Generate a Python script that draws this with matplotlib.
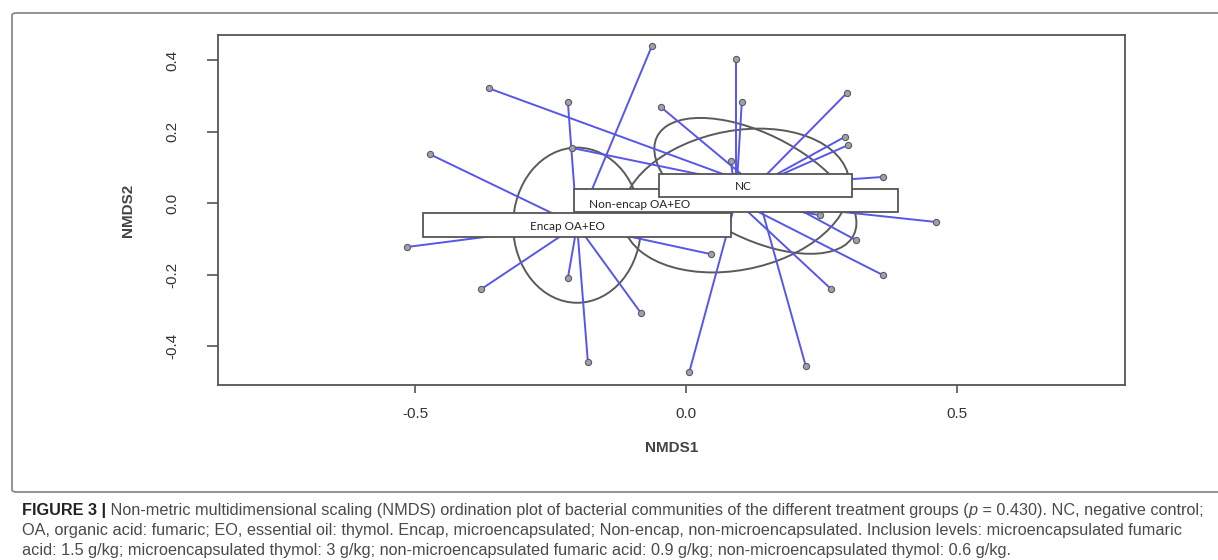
import numpy as np
import matplotlib
matplotlib.use("Agg")
import matplotlib.pyplot as plt
from matplotlib.patches import Ellipse, Rectangle, FancyBboxPatch

# NMDS site scores, one pair of lists per treatment group
encap_x = [-0.063, -0.218, -0.472, -0.515, 0.046, -0.378, -0.218, -0.083, -0.181]
encap_y = [0.440, 0.284, 0.137, -0.122, -0.142, -0.240, -0.209, -0.307, -0.444]

nonencap_x = [0.092, 0.103, 0.083, 0.461, 0.247, 0.364, 0.268, 0.006]
nonencap_y = [0.404, 0.284, 0.118, -0.052, -0.033, -0.201, -0.240, -0.472]

nc_x = [-0.364, -0.046, 0.297, 0.293, 0.299, -0.210, 0.364, 0.314, 0.221]
nc_y = [0.322, 0.269, 0.309, 0.186, 0.163, 0.155, 0.074, -0.103, -0.455]

# group centroids (spider hubs / label positions)
group_names = ["Encap OA+EO", "Non-encap OA+EO", "NC"]
centroid_x = [-0.201, 0.092, 0.128]
centroid_y = [-0.061, 0.008, 0.049]

# dispersion ellipses: full width, full height (NMDS units), rotation in degrees
ell_width = [0.236, 0.452, 0.468]
ell_height = [0.434, 0.366, 0.254]
ell_angle = [0.0, 39.0, -46.0]

x_ticks = [-0.5, 0.0, 0.5]
x_tick_labels = ["-0.5", "0.0", "0.5"]
y_ticks = [-0.4, -0.2, 0.0, 0.2, 0.4]
y_tick_labels = ["-0.4", "-0.2", "0.0", "0.2", "0.4"]

caption_lines = [
    [("FIGURE 3 |", "bold", "normal"),
     (" Non-metric multidimensional scaling (NMDS) ordination plot of bacterial communities of the different treatment groups (", "normal", "normal"),
     ("p", "normal", "italic"),
     (" = 0.430). NC, negative control;", "normal", "normal")],
    [("OA, organic acid: fumaric; EO, essential oil: thymol. Encap, microencapsulated; Non-encap, non-microencapsulated. Inclusion levels: microencapsulated fumaric", "normal", "normal")],
    [("acid: 1.5 g/kg; microencapsulated thymol: 3 g/kg; non-microencapsulated fumaric acid: 0.9 g/kg; non-microencapsulated thymol: 0.6 g/kg.", "normal", "normal")],
]

# label box geometry (half sizes in NMDS units) and text offsets inside the boxes
box_half_w = [0.284, 0.299, 0.178]
box_half_h = [0.034, 0.032, 0.032]
text_dx = [-0.018, -0.177, -0.022]
text_dy = [-0.004, -0.012, -0.003]

W, H = 1218, 560
fig = plt.figure(figsize=(W / 100, H / 100), dpi=100)
fig.patch.set_facecolor("white")

# outer frame around the plot panel (its right side runs off the page)
frame = FancyBboxPatch((12 / W, 1 - 492 / H), (1240 - 12) / W, (492 - 13) / H,
                       boxstyle="round,pad=0,rounding_size=0.004",
                       transform=fig.transFigure, fill=False,
                       edgecolor="#8a8a8a", linewidth=1.3)
fig.patches.append(frame)

ax = fig.add_axes([218 / W, 1 - 385 / H, (1125 - 218) / W, (385 - 35) / H])
ax.set_xlim(-0.8635, 0.81)
ax.set_ylim(-0.508, 0.471)

groups_x = [encap_x, nonencap_x, nc_x]
groups_y = [encap_y, nonencap_y, nc_y]

# ellipses
for g in range(3):
    e = Ellipse((centroid_x[g], centroid_y[g]), ell_width[g], ell_height[g],
                angle=ell_angle[g], fill=False, edgecolor="#5a5a5a",
                linewidth=1.4, zorder=2)
    ax.add_patch(e)

# spider lines from each site to its group centroid
for g in range(3):
    for x, y in zip(groups_x[g], groups_y[g]):
        ax.plot([x, centroid_x[g]], [y, centroid_y[g]], color="#5656ea",
                linewidth=1.4, solid_capstyle="round", zorder=3)

# site points
for g in range(3):
    ax.scatter(groups_x[g], groups_y[g], s=20, facecolor="#a0a0a8",
               edgecolor="#5a5a6a", linewidth=0.8, zorder=4)

# group labels in boxes
for g in [1, 2, 0]:
    rect = Rectangle((centroid_x[g] - box_half_w[g], centroid_y[g] - box_half_h[g]),
                     2 * box_half_w[g], 2 * box_half_h[g],
                     facecolor="white", edgecolor="#555555", linewidth=1.3, zorder=5 + g * 0.1)
    ax.add_patch(rect)
    ax.text(centroid_x[g] + text_dx[g], centroid_y[g] + text_dy[g], group_names[g],
            ha="center", va="center", fontsize=8.5, family=["Lato", "DejaVu Sans"],
            color="#222222", zorder=6)

for side in ["left", "right", "top", "bottom"]:
    ax.spines[side].set_color("#555555")
    ax.spines[side].set_linewidth(1.3)

ax.set_xticks(x_ticks)
ax.set_xticklabels(x_tick_labels, fontsize=11, family="Liberation Sans", color="#333333")
ax.set_yticks(y_ticks)
ax.set_yticklabels(y_tick_labels, fontsize=11, family="Liberation Sans", color="#333333",
                   rotation=90, va="center")
ax.tick_params(axis="both", direction="out", length=6, width=1.2, color="#555555")
ax.tick_params(axis="x", pad=10)
ax.tick_params(axis="y", length=8, pad=20)

ax.set_xlabel("NMDS1", fontsize=11, fontweight="bold", family="Liberation Sans",
              color="#444444", labelpad=14)
ax.set_ylabel("NMDS2", fontsize=11, fontweight="bold", family="Liberation Sans",
              color="#444444", labelpad=22)

# caption, drawn run by run so bold/italic pieces line up
renderer = fig.canvas.get_renderer()
cap_family = ["Liberation Sans Narrow", "Liberation Sans"]


def draw_line(runs, x0, y, size, draw=True):
    x = x0
    for txt, weight, style in runs:
        t = fig.text(x, y, txt, fontsize=size, fontweight=weight, fontstyle=style,
                     family=cap_family, color="#4a4a4a" if weight == "normal" else "#222222",
                     va="center", ha="left")
        x += t.get_window_extent(renderer=renderer).width / W
        if not draw:
            t.remove()
    return x - x0


probe = draw_line(caption_lines[0], 0, 0, 10, draw=False)
cap_size = 10 * ((1207 - 22) / W) / probe

for i, line in enumerate(caption_lines):
    draw_line(line, 22 / W, 1 - (510 + 20 * i) / H, cap_size)

fig.savefig("out.png", dpi=100)
